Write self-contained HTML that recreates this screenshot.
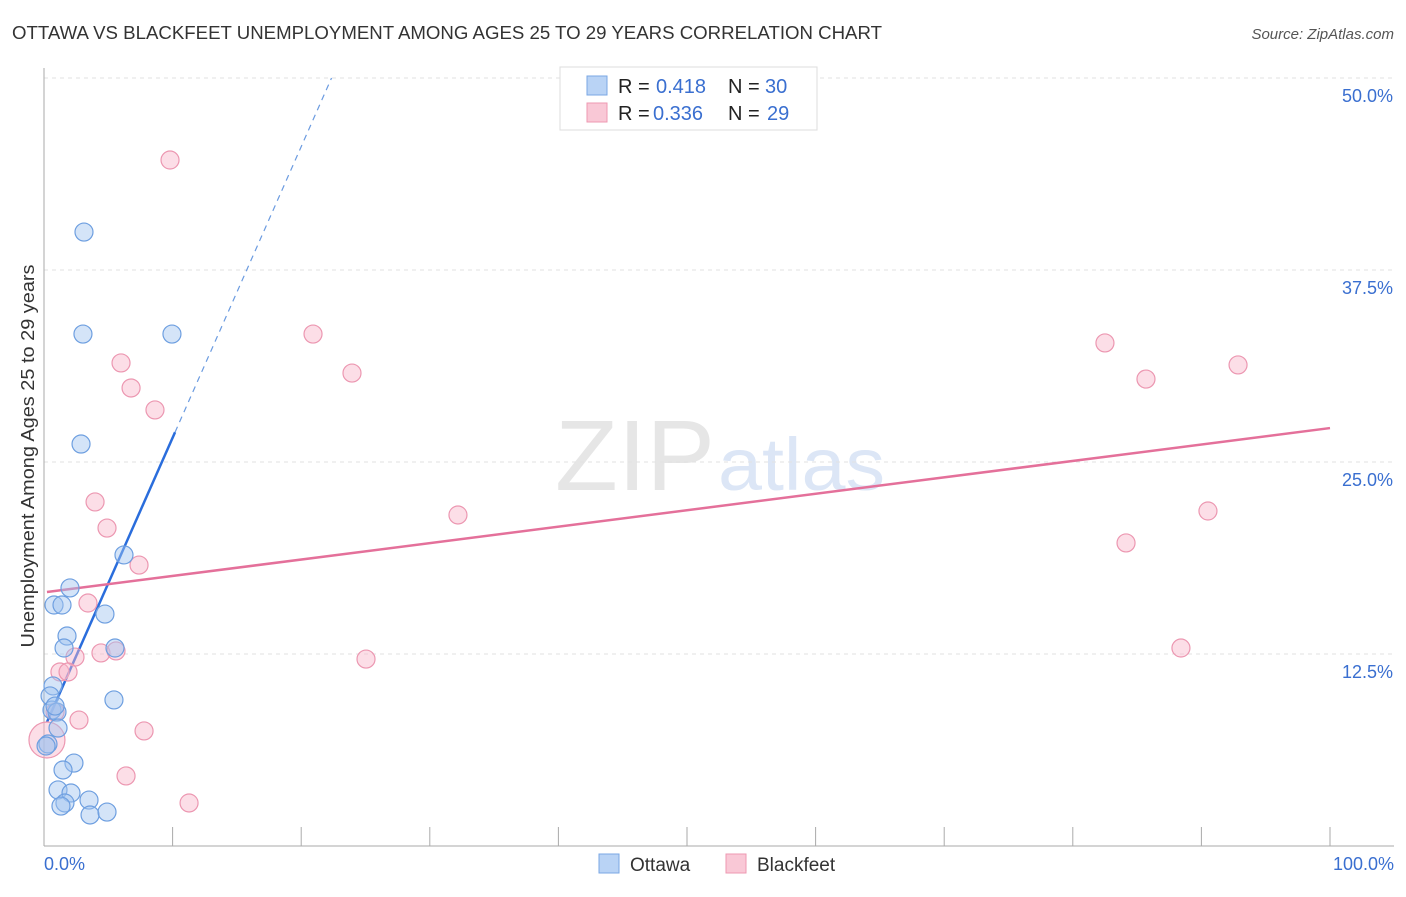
<!DOCTYPE html>
<html><head><meta charset="utf-8">
<style>
body{margin:0;background:#fff;font-family:"Liberation Sans",sans-serif;}
svg text{font-family:"Liberation Sans",sans-serif;}
</style></head>
<body>
<svg id="chart" width="1406" height="892" xmlns="http://www.w3.org/2000/svg">
<text x="12" y="39" font-size="18" fill="#333" textLength="870" lengthAdjust="spacingAndGlyphs">OTTAWA VS BLACKFEET UNEMPLOYMENT AMONG AGES 25 TO 29 YEARS CORRELATION CHART</text>
<text x="1394" y="39" font-size="15" fill="#555" text-anchor="end" font-style="italic">Source: ZipAtlas.com</text>
<text x="555" y="490" font-size="100" fill="#e6e6e6" font-family="Liberation Serif" textLength="160" lengthAdjust="spacingAndGlyphs">ZIP</text>
<text x="718" y="490" font-size="74" fill="#dce6f6" textLength="167" lengthAdjust="spacingAndGlyphs">atlas</text>
<text transform="translate(34,456) rotate(-90)" font-size="18" fill="#333" text-anchor="middle" textLength="383" lengthAdjust="spacingAndGlyphs">Unemployment Among Ages 25 to 29 years</text>
<g id="grid"></g><g id="axes"></g><g id="lines"></g><g id="pts"></g>
<g>
<rect x="560" y="67" width="257" height="63" fill="#fff" stroke="#ddd"/>
<rect x="587" y="76" width="20" height="19" fill="#b9d3f5" stroke="#7aa7e4"/>
<rect x="587" y="103" width="20" height="19" fill="#f9c8d6" stroke="#ee98b2"/>
<text x="618" y="93" font-size="20" fill="#222">R =</text>
<text x="656" y="93" font-size="20" fill="#3a6fd0">0.418</text>
<text x="728" y="93" font-size="20" fill="#222">N =</text>
<text x="765" y="93" font-size="20" fill="#3a6fd0">30</text>
<text x="618" y="120" font-size="20" fill="#222">R =</text>
<text x="653" y="120" font-size="20" fill="#3a6fd0">0.336</text>
<text x="728" y="120" font-size="20" fill="#222">N =</text>
<text x="767" y="120" font-size="20" fill="#3a6fd0">29</text>
</g>
<g>
<rect x="599" y="854" width="20" height="19" fill="#b9d3f5" stroke="#7aa7e4"/>
<text x="630" y="871" font-size="19" fill="#333">Ottawa</text>
<rect x="726" y="854" width="20" height="19" fill="#f9c8d6" stroke="#ee98b2"/>
<text x="757" y="871" font-size="19" fill="#333">Blackfeet</text>
</g>
</svg>
<script>
const ottawaX=[3.11,3.03,9.95,2.88,6.22,2.02,0.78,1.40,4.74,1.79,1.56,5.52,0.70,0.47,5.44,0.62,1.01,1.09,0.31,0.16,2.33,1.48,1.09,2.10,1.63,1.32,3.50,3.58,4.90,0.86];
const ottawaY=[39.97,33.33,33.33,26.17,18.95,16.80,15.69,15.69,15.10,13.67,12.89,12.89,10.42,9.77,9.51,8.85,8.72,7.68,6.64,6.51,5.40,4.95,3.65,3.45,2.80,2.60,2.99,2.02,2.21,9.11];
const blackfeetX=[9.80,20.92,5.99,23.95,6.77,8.63,3.97,4.90,7.39,32.19,3.42,82.50,85.69,92.85,84.14,90.51,88.41,25.04,4.43,5.60,2.41,1.24,1.87,0.86,2.72,7.78,6.38,11.28,0.23];
const blackfeetY=[44.66,33.33,31.45,30.79,29.82,28.39,22.40,20.70,18.29,21.55,15.82,32.75,30.40,31.32,19.73,21.81,12.89,12.17,12.57,12.70,12.30,11.33,11.33,8.72,8.20,7.49,4.56,2.80,6.90];
const yTicks=[12.5,25,37.5,50];
const yTickLabels=["12.5%","25.0%","37.5%","50.0%"];
const xTickVals=[0,10,20,30,40,50,60,70,80,90,100];
const ottawaFit=[7.63,1.895];
const blackfeetFit=[16.51,0.107];

const NS="http://www.w3.org/2000/svg";
const sx=v=>44+v*12.86, sy=v=>846-v*15.36;
function mk(tag,attrs,parent){const e=document.createElementNS(NS,tag);for(const k in attrs)e.setAttribute(k,attrs[k]);document.getElementById(parent).appendChild(e);return e;}
yTicks.forEach((t,i)=>{
 const g=mk('line',{x1:44,x2:1394,y1:sy(t),y2:sy(t),stroke:'#e2e2e2','stroke-dasharray':'4,4'},'grid');
 
 
 const l=mk('text',{x:1393,y:sy(t)+24,'font-size':18,fill:'#3a6fd0','text-anchor':'end'},'axes');
 l.textContent=yTickLabels[i];
 
 
});
const ya=mk('line',{x1:44,x2:44,y1:68,y2:846,stroke:'#aaa'},'axes');


const xa=mk('line',{x1:44,x2:1394,y1:846,y2:846,stroke:'#aaa'},'axes');


xTickVals.forEach(t=>{
 const k=mk('line',{x1:sx(t),x2:sx(t),y1:827,y2:846,stroke:'#aaa'},'axes');
 
 
});
[["0.0%",44,"start"],["100.0%",1394,"end"]].forEach(a=>{
 const l=mk('text',{x:a[1],y:870,'font-size':18,fill:'#3a6fd0','text-anchor':a[2]},'axes');
 l.textContent=a[0];
 
 
});
const oxEnd=10.19, oxDash=(50-ottawaFit[0])/ottawaFit[1];
const l1=mk('line',{x1:sx(0.23),y1:sy(ottawaFit[0]+ottawaFit[1]*0.23),x2:sx(oxEnd),y2:sy(ottawaFit[0]+ottawaFit[1]*oxEnd),stroke:'#2a6ddc','stroke-width':2.5},'lines');


const l2=mk('line',{x1:sx(oxEnd),y1:sy(ottawaFit[0]+ottawaFit[1]*oxEnd),x2:sx(oxDash),y2:sy(50),stroke:'#6b9be0','stroke-width':1.2,'stroke-dasharray':'6,5'},'lines');


const l3=mk('line',{x1:sx(0.23),y1:sy(blackfeetFit[0]+blackfeetFit[1]*0.23),x2:sx(100),y2:sy(blackfeetFit[0]+blackfeetFit[1]*100),stroke:'#e4709a','stroke-width':2.5},'lines');


blackfeetX.forEach((x,i)=>{
 const c=mk('circle',{cx:sx(x),cy:sy(blackfeetY[i]),r:i===28?18:9,fill:'rgba(248,182,202,0.45)',stroke:'#ec97b1','stroke-width':1.2},'pts');
 
 
});
ottawaX.forEach((x,i)=>{
 const c=mk('circle',{cx:sx(x),cy:sy(ottawaY[i]),r:9,fill:'rgba(160,196,240,0.45)',stroke:'#6e9fe0','stroke-width':1.2},'pts');
 
 
});
</script>
</body></html>
